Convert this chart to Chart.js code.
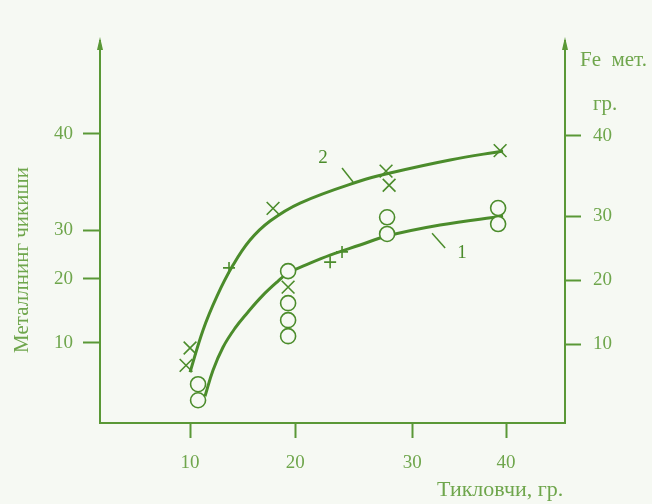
<!DOCTYPE html>
<html>
<head>
<meta charset="UTF-8">
<title>Металлнинг чикиши</title>
<style>
  body { margin: 0; background: #f6f9f3; }
  canvas { display: block; }
</style>
</head>
<body>
<canvas id="chart" width="652" height="504"></canvas>
<script src="https://cdn.jsdelivr.net/npm/chart.js"></script>
<script>
// measured points, curve 2 (crosses)
const crossX = [10.0, 9.62, 17.88, 28.61, 28.90, 39.44, 19.31];
const crossY = [9.4, 6.7, 31.2, 37.0, 34.8, 40.2, 18.9];
// measured points, curve 1 (circles)
const circleX = [10.76, 10.76, 19.31, 19.31, 19.31, 19.31, 28.71, 28.71, 39.25, 39.25];
const circleY = [3.75, 1.25, 21.4, 16.4, 13.75, 11.25, 27.2, 29.8, 31.25, 28.75];
// small half-hidden marks on the curves
const markX = [13.70, 23.30, 24.43];
const markY = [21.9, 22.8, 24.4];

// smoothed curves
const curve2X = [10.0, 11.23, 12.56, 14.08, 15.70, 17.60, 20.45, 26.14, 28.99, 34.69, 39.72];
const curve2Y = [5.63, 12.19, 17.5, 22.34, 26.25, 29.22, 32.03, 35.47, 36.72, 38.75, 40.16];
const curve1X = [11.42, 12.18, 13.13, 14.27, 15.41, 16.84, 18.26, 19.31, 21.40, 23.30, 26.14, 28.71, 33.74, 39.72];
const curve1Y = [1.88, 5.94, 9.53, 12.5, 14.84, 17.5, 19.7, 21.1, 22.66, 23.91, 25.47, 26.88, 28.59, 30.0];

// curve numbers and their leader lines
const curveLabels = ['2', '1'];
const curveLabelX = [22.63, 35.83];
const curveLabelY = [39.1, 24.2];
const leader2X = [24.43, 25.48];
const leader2Y = [37.5, 35.3];
const leader1X = [32.98, 34.22];
const leader1Y = [27.3, 25.0];

// axis ticks (as drawn on the sheet)
const xTickValues = [10, 20, 31.1, 40];
const xTickLabels = ['10', '20', '30', '40'];
const leftTickValues = [10.2, 20.2, 27.8, 42.8];
const rightTickValues = [10, 20, 30, 42.5];
const yTickLabels = ['10', '20', '30', '40'];

const lineColor = '#4b8c2b';
const axisColor = '#5a9836';
const textColor = '#6fa64c';
const bg = '#f6f9f3';
const serif = "'Liberation Serif', 'DejaVu Serif', serif";

const pts = (xs, ys) => xs.map((x, i) => ({ x: x, y: ys[i] }));

const extras = {
  id: 'extras',
  beforeDraw(chart) {
    const ctx = chart.ctx;
    ctx.save();
    ctx.fillStyle = bg;
    ctx.fillRect(0, 0, chart.width, chart.height);
    ctx.restore();
  },
  afterDraw(chart) {
    const ctx = chart.ctx;
    const a = chart.chartArea;
    const sx = chart.scales.x, sy = chart.scales.y;
    ctx.save();
    // arrows on the vertical axes
    ctx.fillStyle = axisColor;
    ctx.strokeStyle = axisColor;
    ctx.lineWidth = 2;
    [a.left, a.right].forEach(x => {
      ctx.beginPath();
      ctx.moveTo(x, a.top);
      ctx.lineTo(x, a.top - 3);
      ctx.stroke();
      ctx.beginPath();
      ctx.moveTo(x, a.top - 6);
      ctx.lineTo(x - 3, a.top + 7);
      ctx.lineTo(x + 3, a.top + 7);
      ctx.closePath();
      ctx.fill();
    });
    // curve numbers
    ctx.fillStyle = lineColor;
    ctx.font = '19px ' + serif;
    ctx.textAlign = 'center';
    ctx.textBaseline = 'middle';
    curveLabels.forEach((t, i) => {
      ctx.fillText(t, sx.getPixelForValue(curveLabelX[i]), sy.getPixelForValue(curveLabelY[i]));
    });
    // axis titles
    ctx.fillStyle = textColor;
    ctx.font = '21px ' + serif;
    ctx.textAlign = 'left';
    ctx.fillText('Fe  мет.', 580, 60);
    ctx.fillText('гр.', 593, 104);
    ctx.font = '22px ' + serif;
    ctx.fillText('Тикловчи, гр.', 437, 490);
    ctx.font = '21px ' + serif;
    ctx.translate(22, 260);
    ctx.rotate(-Math.PI / 2);
    ctx.textAlign = 'center';
    ctx.fillText('Металлнинг чикиши', 0, 0);
    ctx.restore();
  }
};

const tickGrid = len => ({
  display: true,
  drawOnChartArea: false,
  drawTicks: true,
  tickLength: len,
  tickWidth: 2,
  tickColor: axisColor
});

const tickFont = { family: serif, size: 19 };

new Chart(document.getElementById('chart'), {
  type: 'scatter',
  data: {
    datasets: [
      {
        data: pts(circleX, circleY),
        pointStyle: 'circle',
        pointRadius: 7.5,
        borderWidth: 1.6,
        borderColor: lineColor,
        backgroundColor: bg,
        order: 1
      },
      {
        data: pts(crossX, crossY),
        pointStyle: 'crossRot',
        pointRadius: 9,
        borderWidth: 1.6,
        borderColor: lineColor,
        order: 1
      },
      {
        data: pts(markX, markY),
        pointStyle: 'cross',
        pointRadius: 6,
        borderWidth: 1.6,
        borderColor: lineColor,
        order: 1
      },
      {
        data: pts(curve2X, curve2Y),
        showLine: true,
        pointRadius: 0,
        borderWidth: 3,
        borderColor: lineColor,
        tension: 0.4,
        order: 2
      },
      {
        data: pts(curve1X, curve1Y),
        showLine: true,
        pointRadius: 0,
        borderWidth: 3,
        borderColor: lineColor,
        tension: 0.4,
        order: 2
      },
      {
        data: pts(leader2X, leader2Y),
        showLine: true,
        pointRadius: 0,
        borderWidth: 1.5,
        borderColor: lineColor,
        order: 2
      },
      {
        data: pts(leader1X, leader1Y),
        showLine: true,
        pointRadius: 0,
        borderWidth: 1.5,
        borderColor: lineColor,
        order: 2
      }
    ]
  },
  options: {
    responsive: false,
    animation: false,
    events: [],
    layout: { padding: { top: 43 } },
    plugins: {
      legend: { display: false },
      tooltip: { enabled: false }
    },
    scales: {
      x: {
        type: 'linear',
        min: 1.45,
        max: 45.6,
        afterBuildTicks: s => { s.ticks = xTickValues.map(v => ({ value: v })); },
        afterFit: s => { s.height = 81; },
        ticks: {
          autoSkip: false,
          maxRotation: 0,
          padding: 14,
          color: textColor,
          font: tickFont,
          callback: (v, i) => xTickLabels[i]
        },
        grid: tickGrid(15),
        border: { display: true, color: axisColor, width: 2 }
      },
      y: {
        type: 'linear',
        position: 'left',
        min: -2.3,
        max: 57,
        afterBuildTicks: s => { s.ticks = leftTickValues.map(v => ({ value: v })); },
        afterFit: s => { s.width = 100; },
        ticks: {
          autoSkip: false,
          padding: 10,
          color: textColor,
          font: tickFont,
          callback: (v, i) => yTickLabels[i]
        },
        grid: tickGrid(17),
        border: { display: true, color: axisColor, width: 2 }
      },
      y2: {
        type: 'linear',
        position: 'right',
        min: -2.3,
        max: 57,
        afterBuildTicks: s => { s.ticks = rightTickValues.map(v => ({ value: v })); },
        afterFit: s => { s.width = 87; },
        ticks: {
          autoSkip: false,
          padding: 12,
          color: textColor,
          font: tickFont,
          callback: (v, i) => yTickLabels[i]
        },
        grid: tickGrid(16),
        border: { display: true, color: axisColor, width: 2 }
      }
    }
  },
  plugins: [extras]
});
</script>
</body>
</html>
